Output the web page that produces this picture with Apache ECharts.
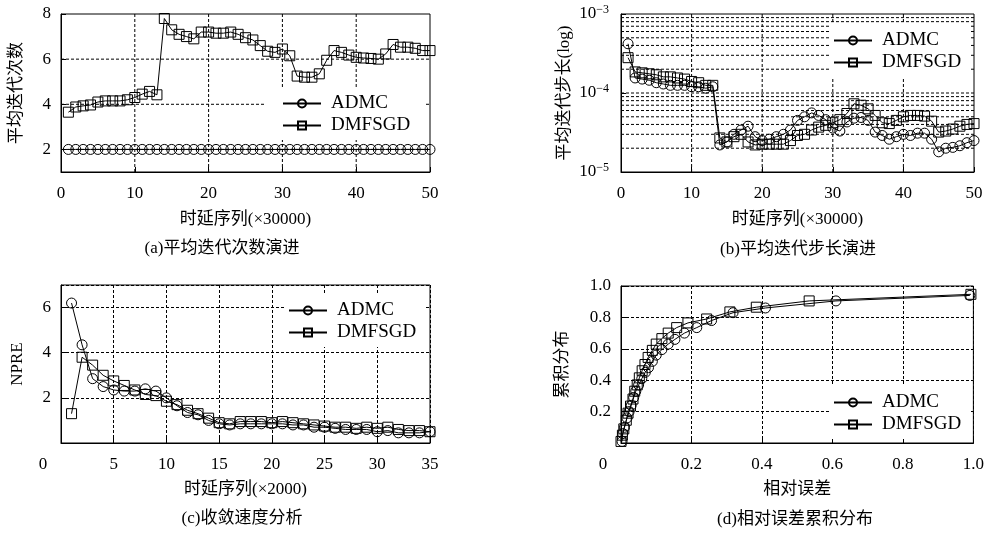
<!DOCTYPE html>
<html><head><meta charset="utf-8">
<script src="https://cdn.jsdelivr.net/npm/echarts@6/dist/echarts.min.js"></script>
<style>html,body{margin:0;padding:0;background:#fff}#c{width:987px;height:533px}</style>
</head><body><div id="c"></div>
<script>
const seriesNames = ['ADMC', 'DMFSGD'];
// (a) average iteration count, x = 1..50
const aADMC = [2,2,2,2,2,2,2,2,2,2,2,2,2,2,2,2,2,2,2,2,2,2,2,2,2,2,2,2,2,2,2,2,2,2,2,2,2,2,2,2,2,2,2,2,2,2,2,2,2,2];
const aDMFSGD = [3.65,3.88,3.93,3.97,4.1,4.15,4.15,4.15,4.2,4.3,4.45,4.57,4.42,7.8,7.3,7.1,7.0,6.9,7.2,7.2,7.15,7.15,7.2,7.1,6.95,6.85,6.6,6.35,6.3,6.45,6.15,5.25,5.2,5.2,5.35,5.95,6.38,6.3,6.18,6.08,6.05,6.03,6.0,6.23,6.65,6.53,6.53,6.48,6.38,6.38];
const aXGrid = [10, 20, 30, 40];
const aYGrid = [2, 4, 6];
// (b) average step length (log), x = 1..50
const bADMC = [4.2e-4,1.55e-4,1.5e-4,1.45e-4,1.35e-4,1.3e-4,1.25e-4,1.25e-4,1.25e-4,1.2e-4,1.2e-4,1.15e-4,1.2e-4,2.2e-5,2.4e-5,3.0e-5,3.4e-5,3.8e-5,2.8e-5,2.5e-5,2.6e-5,2.8e-5,3.0e-5,3.4e-5,4.5e-5,5.0e-5,5.6e-5,5.2e-5,4.6e-5,3.6e-5,3.3e-5,4.3e-5,4.8e-5,4.9e-5,4.5e-5,3.2e-5,2.9e-5,2.6e-5,2.8e-5,3.0e-5,2.9e-5,3.1e-5,3.1e-5,2.6e-5,1.8e-5,2.0e-5,2.05e-5,2.15e-5,2.35e-5,2.5e-5];
const bDMFSGD = [2.8e-4,1.85e-4,1.8e-4,1.75e-4,1.7e-4,1.6e-4,1.6e-4,1.55e-4,1.5e-4,1.4e-4,1.35e-4,1.25e-4,1.25e-4,2.7e-5,2.4e-5,2.8e-5,3.0e-5,2.4e-5,2.2e-5,2.25e-5,2.25e-5,2.25e-5,2.25e-5,2.5e-5,2.9e-5,3.0e-5,3.4e-5,3.7e-5,3.9e-5,4.2e-5,4.6e-5,5.5e-5,7.3e-5,7.0e-5,6.3e-5,5.2e-5,4.2e-5,4.1e-5,4.5e-5,5.0e-5,5.2e-5,5.2e-5,5.1e-5,4.4e-5,3.2e-5,3.3e-5,3.5e-5,3.8e-5,4.0e-5,4.1e-5];
const bXGrid = [10, 20, 30, 40];
const bDecades = [1e-5, 1e-4];
const bMultipliers = [1,2,3,4,5,6,7,8,9];
// (c) NPRE convergence, x = 1..35
const cADMC = [6.2,4.35,2.85,2.5,2.35,2.3,2.3,2.4,2.3,2.0,1.65,1.35,1.25,1.0,0.85,0.8,0.85,0.85,0.85,0.85,0.85,0.8,0.8,0.7,0.7,0.65,0.6,0.6,0.6,0.5,0.55,0.45,0.45,0.45,0.5];
const cDMFSGD = [1.3,3.8,3.45,3.0,2.75,2.55,2.35,2.15,2.1,1.85,1.7,1.45,1.3,1.1,0.9,0.85,0.95,0.95,0.95,0.9,0.95,0.9,0.85,0.8,0.75,0.7,0.7,0.65,0.7,0.65,0.7,0.6,0.55,0.55,0.5];
// (d) CDF of relative error: [relative error, cumulative]
const dADMC = [[0.003,0.01],[0.005,0.06],[0.01,0.1],[0.017,0.16],[0.023,0.2],[0.029,0.24],[0.036,0.29],[0.042,0.33],[0.05,0.37],[0.059,0.41],[0.069,0.45],[0.078,0.48],[0.089,0.52],[0.1,0.56],[0.116,0.595],[0.134,0.63],[0.153,0.66],[0.18,0.7],[0.215,0.735],[0.257,0.78],[0.318,0.83],[0.41,0.86],[0.61,0.905],[0.99,0.94]];
const dDMFSGD = [[0.0,0.01],[0.004,0.05],[0.008,0.09],[0.015,0.145],[0.02,0.19],[0.027,0.235],[0.034,0.28],[0.039,0.33],[0.046,0.37],[0.052,0.415],[0.06,0.46],[0.068,0.5],[0.077,0.545],[0.089,0.59],[0.1,0.63],[0.116,0.665],[0.134,0.7],[0.158,0.735],[0.19,0.765],[0.243,0.79],[0.309,0.835],[0.384,0.865],[0.534,0.905],[0.993,0.947]];

const captions = ['(a)平均迭代次数演进', '(b)平均迭代步长演进', '(c)收敛速度分析', '(d)相对误差累积分布'];

const FONT = "'Liberation Serif','Noto Sans CJK SC',serif";
const FS = 17;
const gl = () => ({ type: [3, 2], color: '#000', width: 1 });
const txt = () => ({ color: '#000', fontFamily: FONT, fontSize: FS });

function idx(arr) { return arr.map((v, i) => [i + 1, v]); }
function ser(name, data, sym, gi) {
  return {
    type: 'line', name: name, data: data, xAxisIndex: gi, yAxisIndex: gi,
    symbol: sym, symbolSize: 10, showAllSymbol: true,
    lineStyle: { color: '#000', width: 1 },
    itemStyle: { color: 'rgba(255,255,255,0)', borderColor: '#000', borderWidth: 1 },
    emphasis: { disabled: true }, animation: false, z: 3
  };
}
// each dotted grid line is a two-point line series placed by the axis scales
function gridLines(gi, xs, ys, xr, yr) {
  const segs = xs.map(v => [[v, yr[0]], [v, yr[1]]]).concat(ys.map(v => [[xr[0], v], [xr[1], v]]));
  return segs.map((d, k) => ({
    type: 'line', name: '_grid' + gi + '_' + k, xAxisIndex: gi, yAxisIndex: gi, data: d,
    symbol: 'none', showSymbol: false, silent: true, clip: false, z: 6, animation: false,
    emphasis: { disabled: true },
    lineStyle: { color: '#000', width: 1, type: [3, 2] }
  }));
}
function xAxis(gi, max, interval, name, gap, fmt, split) {
  return {
    gridIndex: gi, type: 'value', min: 0, max: max, interval: interval,
    axisLine: { show: true, lineStyle: { color: '#000', width: 1 } },
    axisTick: { show: true, inside: true, length: 5, lineStyle: { color: '#000' } },
    axisLabel: Object.assign({ margin: 13, formatter: fmt, rich: { z: Object.assign({ padding: [0, 36, 0, 0] }, txt()) } }, txt()),
    splitLine: { show: split, lineStyle: gl() },
    name: name, nameLocation: 'middle', nameGap: gap, nameTextStyle: txt()
  };
}
const sup = v => { const e = Math.round(Math.log10(v)); return '{b|10}{s|' + (e < 0 ? '\u2212' + (-e) : e) + '}'; };

const bYGrid = [];
bDecades.forEach(d => bMultipliers.forEach(m => { if (m * d > 1e-5) bYGrid.push(m * d); }));

const legendBase = () => ({
  data: seriesNames, orient: 'vertical', selectedMode: false, z: 10,
  itemWidth: 38, itemHeight: 10, itemGap: 3,
  backgroundColor: '#fff', textStyle: Object.assign({ padding: [0, 0, 0, 5] }, txt(), { fontSize: 19 })
});

const option = {
  backgroundColor: '#fff',
  animation: false,
  grid: [
    { left: 61, top: 14, width: 369, height: 158, show: true, borderColor: '#000', borderWidth: 1 },
    { left: 621, top: 14, width: 353, height: 158, show: true, borderColor: '#000', borderWidth: 1 },
    { left: 61, top: 285, width: 369, height: 158, show: true, borderColor: '#000', borderWidth: 1 },
    { left: 621, top: 286, width: 354, height: 157, show: true, borderColor: '#000', borderWidth: 1 }
  ],
  xAxis: [
    xAxis(0, 50, 10, '时延序列(×30000)', 39, v => String(v), false),
    xAxis(1, 50, 10, '时延序列(×30000)', 39, v => String(v), false),
    xAxis(2, 35, 5, '时延序列(×2000)', 38, v => v === 0 ? '{z|0}' : String(v), true),
    xAxis(3, 1, 0.2, '相对误差', 38, v => v === 0 ? '{z|0}' : v.toFixed(1), true)
  ],
  yAxis: [
    { gridIndex: 0, type: 'value', min: 1, max: 8, splitNumber: 4,
      axisLine: { show: true, lineStyle: { color: '#000' } },
      axisTick: { show: true, inside: true, length: 5, lineStyle: { color: '#000' } },
      axisLabel: Object.assign({ margin: 10, showMinLabel: false }, txt()),
      splitLine: { show: false },
      name: '平均迭代次数', nameLocation: 'middle', nameGap: 36, nameTextStyle: txt() },
    { gridIndex: 1, type: 'log', logBase: 10, min: 1e-5, max: 1e-3,
      axisLine: { show: true, lineStyle: { color: '#000' } },
      axisTick: { show: true, inside: true, length: 5, lineStyle: { color: '#000' } },
      axisLabel: Object.assign({ margin: 12, formatter: sup,
        rich: { b: txt(), s: Object.assign(txt(), { fontSize: 12, verticalAlign: 'bottom', padding: [0, 0, 9, 0] }) } }, txt()),
      splitLine: { show: false },
      name: '平均迭代步长(log)', nameLocation: 'middle', nameGap: 48, nameTextStyle: txt() },
    { gridIndex: 2, type: 'value', min: 0, max: 7, interval: 2,
      axisLine: { show: true, lineStyle: { color: '#000' } },
      axisTick: { show: true, inside: true, length: 5, lineStyle: { color: '#000' } },
      axisLabel: Object.assign({ margin: 10, showMinLabel: false, showMaxLabel: false }, txt()),
      splitLine: { show: true, lineStyle: gl() },
      name: 'NPRE', nameLocation: 'middle', nameGap: 35, nameTextStyle: txt() },
    { gridIndex: 3, type: 'value', min: 0, max: 1, interval: 0.2,
      axisLine: { show: true, lineStyle: { color: '#000' } },
      axisTick: { show: true, inside: true, length: 5, lineStyle: { color: '#000' } },
      axisLabel: Object.assign({ margin: 10, showMinLabel: false, formatter: v => v.toFixed(1) }, txt()),
      splitLine: { show: true, lineStyle: gl() },
      name: '累积分布', nameLocation: 'middle', nameGap: 50, nameTextStyle: txt() }
  ],
  legend: [
    Object.assign(legendBase(), { left: 265, top: 87, padding: [7, 14, 5, 17] }),
    Object.assign(legendBase(), { left: 830, top: 24, padding: [7, 8, 5, 3] }),
    Object.assign(legendBase(), { left: 285, top: 294, padding: [7, 8, 5, 3] }),
    Object.assign(legendBase(), { left: 830, top: 386, padding: [7, 8, 5, 3] })
  ],
  series: [].concat(
    gridLines(0, aXGrid, aYGrid, [0, 50], [1, 8]),
    gridLines(1, bXGrid, bYGrid, [0, 50], [1e-5, 1e-3]),
    [
      ser('ADMC', idx(aADMC), 'circle', 0),
      ser('DMFSGD', idx(aDMFSGD), 'rect', 0),
      ser('ADMC', idx(bADMC), 'circle', 1),
      ser('DMFSGD', idx(bDMFSGD), 'rect', 1),
      ser('ADMC', idx(cADMC), 'circle', 2),
      ser('DMFSGD', idx(cDMFSGD), 'rect', 2),
      ser('ADMC', dADMC, 'circle', 3),
      ser('DMFSGD', dDMFSGD, 'rect', 3)
    ]),
  graphic: [
    [222, 249], [798, 250], [242, 519], [795, 520]
  ].map((p, i) => ({
    type: 'text', x: p[0], y: p[1], silent: true,
    style: { text: captions[i], fill: '#000', font: FS + 'px ' + FONT, align: 'center', verticalAlign: 'middle' }
  }))
};

const chart = echarts.init(document.getElementById('c'), null, { renderer: 'canvas' });
chart.setOption(option);
</script>
</body></html>
